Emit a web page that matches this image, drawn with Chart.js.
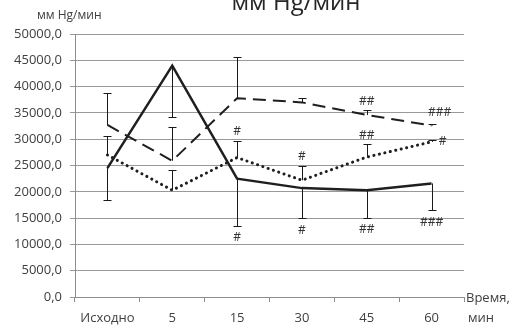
<!DOCTYPE html>
<html>
<head>
<meta charset="utf-8">
<script src="https://cdn.jsdelivr.net/npm/chart.js@4/dist/chart.umd.min.js"></script>
<style>
  html, body { margin: 0; padding: 0; background: #fff; }
  #wrap { width: 511px; height: 327px; }
</style>
</head>
<body>
<div id="wrap"><canvas id="chart"></canvas></div>
<script>
const categories = ["Исходно", "5", "15", "30", "45", "60"];
const solidValues = [24500, 44000, 22500, 20700, 20300, 21600];
const dashedValues = [32700, 25900, 37800, 37000, 34600, 32600];
const dottedValues = [27000, 20300, 26500, 22200, 26600, 29500];
// far end of each error bar
const solidErr = [18400, 34200, 13500, 15000, 15100, 16500];
const dashedErr = [38700, 32400, 45700, 37800, 35500, 32900];
const dottedErr = [30600, 24100, 29700, 24900, 29000, 29900];
// significance marks
const solidMarks = ["", "", "#", "#", "##", "###"];
const dashedMarks = ["", "", "", "", "##", "###"];
const dottedMarks = ["", "", "#", "#", "##", "#"];
const yTicks = [0, 5000, 10000, 15000, 20000, 25000, 30000, 35000, 40000, 45000, 50000];

const FONT = "'Open Sans', 'Noto Sans', sans-serif";
const TXT = "#404040";

const extras = {
  id: "extras",
  afterDatasetsDraw(chart) {
    const ctx = chart.ctx;
    const x = chart.scales.x, y = chart.scales.y;
    const sets = [
      { v: solidValues, e: solidErr, m: solidMarks, below: true },
      { v: dashedValues, e: dashedErr, m: dashedMarks, below: false },
      { v: dottedValues, e: dottedErr, m: dottedMarks, below: false }
    ];
    ctx.save();
    ctx.strokeStyle = "#1a1a1a";
    ctx.lineWidth = 1;
    sets.forEach(s => {
      s.v.forEach((val, i) => {
        const px = Math.round(x.getPixelForValue(i)) + 0.5;
        const y1 = y.getPixelForValue(val);
        const y2 = Math.round(y.getPixelForValue(s.e[i])) + 0.5;
        ctx.beginPath();
        ctx.moveTo(px, y1);
        ctx.lineTo(px, y2);
        ctx.moveTo(px - 4, y2);
        ctx.lineTo(px + 4, y2);
        ctx.stroke();
      });
    });
    ctx.fillStyle = "#333";
    ctx.font = "12px " + FONT;
    ctx.textAlign = "center";
    ctx.textBaseline = "middle";
    sets.forEach((s, k) => {
      s.m.forEach((txt, i) => {
        if (!txt) return;
        let px = x.getPixelForValue(i);
        let py = y.getPixelForValue(s.e[i]);
        if (s.below) py += 12;
        else py -= 9;
        if (i === 5 && k === 1) { px += 8; py = y.getPixelForValue(s.v[i]) - 13; }
        if (i === 5 && k === 2) { px += 11; py = y.getPixelForValue(s.v[i]); }
        ctx.fillText(txt, px, py);
      });
    });
    // titles
    ctx.textAlign = "center";
    ctx.textBaseline = "alphabetic";
    ctx.font = "24px " + FONT;
    ctx.fillStyle = "#262626";
    ctx.fillText("мм Hg/мин", 296, 10);
    ctx.font = "12px " + FONT;
    ctx.fillStyle = TXT;
    ctx.textAlign = "left";
    ctx.textBaseline = "middle";
    ctx.fillText("мм Hg/мин", 37, 16);
    ctx.font = "13px " + FONT;
    ctx.fillText("Время,", 466, 298);
    ctx.fillText("мин", 468, 318);
    ctx.restore();
  }
};

new Chart(document.getElementById("chart"), {
  type: "line",
  data: {
    labels: categories,
    datasets: [
      { label: "solid", data: solidValues, borderColor: "#1f1f1f", borderWidth: 2.5, pointRadius: 0, tension: 0 },
      { label: "dashed", data: dashedValues, borderColor: "#1f1f1f", borderWidth: 2, borderDash: [13, 7], pointRadius: 0, tension: 0 },
      { label: "dotted", data: dottedValues, borderColor: "#1f1f1f", borderWidth: 3, borderDash: [0.1, 5.5], borderCapStyle: "round", pointRadius: 0, tension: 0 }
    ]
  },
  options: {
    responsive: true,
    maintainAspectRatio: false,
    animation: false,
    layout: { padding: { left: 0, right: 47, top: 34, bottom: 0 } },
    plugins: { legend: { display: false }, tooltip: { enabled: false } },
    scales: {
      x: {
        offset: true,
        grid: { offset: true, drawOnChartArea: false, color: "#8c8c8c", tickLength: 5 },
        border: { color: "#8c8c8c" },
        ticks: { color: TXT, font: { family: FONT, size: 13 }, padding: 8, maxRotation: 0 },
        afterFit(s) { s.height = 30; }
      },
      y: {
        min: 0, max: 50000,
        afterBuildTicks(s) { s.ticks = yTicks.map(v => ({ value: v })); },
        grid: { color: "#999", tickLength: 5 },
        border: { color: "#8c8c8c" },
        ticks: {
          color: TXT, font: { family: FONT, size: 13 }, padding: 8,
          callback: v => v.toFixed(1).replace(".", ",")
        },
        afterFit(s) { s.width = 75; }
      }
    }
  },
  plugins: [extras]
});
</script>
</body>
</html>
